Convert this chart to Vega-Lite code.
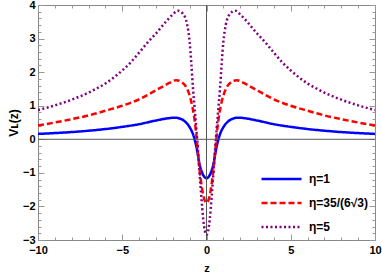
{
  "$schema": "https://vega.github.io/schema/vega-lite/v6.json",
  "width": 337,
  "height": 235,
  "autosize": "none",
  "padding": {"left": 38, "top": 5, "right": 7, "bottom": 33},
  "config": {
    "view": {"stroke": "#888", "strokeWidth": 1},
    "font": "Liberation Sans",
    "axis": {
      "domain": false,
      "grid": false,
      "tickColor": "#999",
      "tickWidth": 1,
      "labelFont": "Liberation Sans",
      "labelFontWeight": "bold",
      "labelFontSize": 11,
      "labelColor": "#000",
      "labelOverlap": false,
      "labelFlush": false,
      "labelBound": false,
      "titleFont": "Liberation Sans",
      "titleFontWeight": "bold",
      "titleFontSize": 11,
      "titleColor": "#000"
    },
    "legend": {
      "orient": "none",
      "legendX": 222,
      "legendY": 167,
      "symbolType": "stroke",
      "symbolSize": 1600,
      "symbolStrokeWidth": 2.5,
      "labelFont": "Liberation Sans",
      "labelFontSize": 12,
      "labelFontWeight": "bold",
      "labelColor": "#000",
      "labelOffset": 6,
      "clipHeight": 14,
      "rowPadding": 10,
      "title": null
    }
  },
  "resolve": {"axis": {"x": "independent", "y": "independent"}},
  "layer": [
    {
      "data": {
        "values": [
          {"z": -10, "V": 0.16, "e": "η=1"}, {"z": -9, "V": 0.185, "e": "η=1"}, {"z": -8, "V": 0.215, "e": "η=1"}, {"z": -7, "V": 0.255, "e": "η=1"}, {"z": -6, "V": 0.305, "e": "η=1"}, {"z": -5, "V": 0.37, "e": "η=1"}, {"z": -4, "V": 0.45, "e": "η=1"}, {"z": -3, "V": 0.56, "e": "η=1"}, {"z": -2.3, "V": 0.625, "e": "η=1"}, {"z": -1.9, "V": 0.645, "e": "η=1"}, {"z": -1.6, "V": 0.62, "e": "η=1"}, {"z": -1.3, "V": 0.54, "e": "η=1"}, {"z": -1.0, "V": 0.36, "e": "η=1"}, {"z": -0.8, "V": 0.15, "e": "η=1"}, {"z": -0.6, "V": -0.22, "e": "η=1"}, {"z": -0.4, "V": -0.76, "e": "η=1"}, {"z": -0.2, "V": -1.06, "e": "η=1"},
          {"z": 0, "V": -1.16, "e": "η=1"},
          {"z": 0.2, "V": -1.06, "e": "η=1"}, {"z": 0.4, "V": -0.76, "e": "η=1"}, {"z": 0.6, "V": -0.22, "e": "η=1"}, {"z": 0.8, "V": 0.15, "e": "η=1"}, {"z": 1.0, "V": 0.36, "e": "η=1"}, {"z": 1.3, "V": 0.54, "e": "η=1"}, {"z": 1.6, "V": 0.62, "e": "η=1"}, {"z": 1.9, "V": 0.645, "e": "η=1"}, {"z": 2.3, "V": 0.625, "e": "η=1"}, {"z": 3, "V": 0.56, "e": "η=1"}, {"z": 4, "V": 0.45, "e": "η=1"}, {"z": 5, "V": 0.37, "e": "η=1"}, {"z": 6, "V": 0.305, "e": "η=1"}, {"z": 7, "V": 0.255, "e": "η=1"}, {"z": 8, "V": 0.215, "e": "η=1"}, {"z": 9, "V": 0.185, "e": "η=1"}, {"z": 10, "V": 0.16, "e": "η=1"},

          {"z": -10, "V": 0.41, "e": "η=35/(6√3)"}, {"z": -9, "V": 0.5, "e": "η=35/(6√3)"}, {"z": -8, "V": 0.6, "e": "η=35/(6√3)"}, {"z": -7, "V": 0.71, "e": "η=35/(6√3)"}, {"z": -6, "V": 0.85, "e": "η=35/(6√3)"}, {"z": -5, "V": 1.0, "e": "η=35/(6√3)"}, {"z": -4, "V": 1.19, "e": "η=35/(6√3)"}, {"z": -3.5, "V": 1.32, "e": "η=35/(6√3)"}, {"z": -3, "V": 1.46, "e": "η=35/(6√3)"}, {"z": -2.6, "V": 1.57, "e": "η=35/(6√3)"}, {"z": -2.2, "V": 1.68, "e": "η=35/(6√3)"}, {"z": -1.8, "V": 1.76, "e": "η=35/(6√3)"}, {"z": -1.5, "V": 1.71, "e": "η=35/(6√3)"}, {"z": -1.2, "V": 1.55, "e": "η=35/(6√3)"}, {"z": -1.0, "V": 1.3, "e": "η=35/(6√3)"}, {"z": -0.85, "V": 1.0, "e": "η=35/(6√3)"}, {"z": -0.7, "V": 0.55, "e": "η=35/(6√3)"}, {"z": -0.6, "V": 0.1, "e": "η=35/(6√3)"}, {"z": -0.5, "V": -0.45, "e": "η=35/(6√3)"}, {"z": -0.4, "V": -0.95, "e": "η=35/(6√3)"}, {"z": -0.3, "V": -1.35, "e": "η=35/(6√3)"}, {"z": -0.2, "V": -1.65, "e": "η=35/(6√3)"}, {"z": -0.1, "V": -1.83, "e": "η=35/(6√3)"},
          {"z": 0, "V": -1.89, "e": "η=35/(6√3)"},
          {"z": 0.1, "V": -1.83, "e": "η=35/(6√3)"}, {"z": 0.2, "V": -1.65, "e": "η=35/(6√3)"}, {"z": 0.3, "V": -1.35, "e": "η=35/(6√3)"}, {"z": 0.4, "V": -0.95, "e": "η=35/(6√3)"}, {"z": 0.5, "V": -0.45, "e": "η=35/(6√3)"}, {"z": 0.6, "V": 0.1, "e": "η=35/(6√3)"}, {"z": 0.7, "V": 0.55, "e": "η=35/(6√3)"}, {"z": 0.85, "V": 1.0, "e": "η=35/(6√3)"}, {"z": 1.0, "V": 1.3, "e": "η=35/(6√3)"}, {"z": 1.2, "V": 1.55, "e": "η=35/(6√3)"}, {"z": 1.5, "V": 1.71, "e": "η=35/(6√3)"}, {"z": 1.8, "V": 1.76, "e": "η=35/(6√3)"}, {"z": 2.2, "V": 1.68, "e": "η=35/(6√3)"}, {"z": 2.6, "V": 1.57, "e": "η=35/(6√3)"}, {"z": 3, "V": 1.46, "e": "η=35/(6√3)"}, {"z": 3.5, "V": 1.32, "e": "η=35/(6√3)"}, {"z": 4, "V": 1.19, "e": "η=35/(6√3)"}, {"z": 5, "V": 1.0, "e": "η=35/(6√3)"}, {"z": 6, "V": 0.85, "e": "η=35/(6√3)"}, {"z": 7, "V": 0.71, "e": "η=35/(6√3)"}, {"z": 8, "V": 0.6, "e": "η=35/(6√3)"}, {"z": 9, "V": 0.5, "e": "η=35/(6√3)"}, {"z": 10, "V": 0.41, "e": "η=35/(6√3)"},

          {"z": -10, "V": 0.87, "e": "η=5"}, {"z": -9, "V": 1.01, "e": "η=5"}, {"z": -8, "V": 1.18, "e": "η=5"}, {"z": -7.5, "V": 1.28, "e": "η=5"}, {"z": -7, "V": 1.39, "e": "η=5"}, {"z": -6.5, "V": 1.52, "e": "η=5"}, {"z": -6, "V": 1.66, "e": "η=5"}, {"z": -5.5, "V": 1.84, "e": "η=5"}, {"z": -5, "V": 2.05, "e": "η=5"}, {"z": -4.5, "V": 2.29, "e": "η=5"}, {"z": -4, "V": 2.58, "e": "η=5"}, {"z": -3.5, "V": 2.88, "e": "η=5"}, {"z": -3, "V": 3.15, "e": "η=5"}, {"z": -2.5, "V": 3.45, "e": "η=5"}, {"z": -2.0, "V": 3.72, "e": "η=5"}, {"z": -1.7, "V": 3.83, "e": "η=5"}, {"z": -1.4, "V": 3.74, "e": "η=5"}, {"z": -1.15, "V": 3.42, "e": "η=5"}, {"z": -1.0, "V": 2.9, "e": "η=5"}, {"z": -0.9, "V": 2.25, "e": "η=5"}, {"z": -0.8, "V": 1.5, "e": "η=5"}, {"z": -0.7, "V": 0.9, "e": "η=5"}, {"z": -0.6, "V": 0.3, "e": "η=5"}, {"z": -0.5, "V": -0.35, "e": "η=5"}, {"z": -0.4, "V": -1.08, "e": "η=5"}, {"z": -0.3, "V": -1.75, "e": "η=5"}, {"z": -0.2, "V": -2.35, "e": "η=5"}, {"z": -0.1, "V": -2.72, "e": "η=5"},
          {"z": 0, "V": -2.85, "e": "η=5"},
          {"z": 0.1, "V": -2.72, "e": "η=5"}, {"z": 0.2, "V": -2.35, "e": "η=5"}, {"z": 0.3, "V": -1.75, "e": "η=5"}, {"z": 0.4, "V": -1.08, "e": "η=5"}, {"z": 0.5, "V": -0.35, "e": "η=5"}, {"z": 0.6, "V": 0.3, "e": "η=5"}, {"z": 0.7, "V": 0.9, "e": "η=5"}, {"z": 0.8, "V": 1.5, "e": "η=5"}, {"z": 0.9, "V": 2.25, "e": "η=5"}, {"z": 1.0, "V": 2.9, "e": "η=5"}, {"z": 1.15, "V": 3.42, "e": "η=5"}, {"z": 1.4, "V": 3.74, "e": "η=5"}, {"z": 1.7, "V": 3.83, "e": "η=5"}, {"z": 2.0, "V": 3.72, "e": "η=5"}, {"z": 2.5, "V": 3.45, "e": "η=5"}, {"z": 3, "V": 3.15, "e": "η=5"}, {"z": 3.5, "V": 2.88, "e": "η=5"}, {"z": 4, "V": 2.58, "e": "η=5"}, {"z": 4.5, "V": 2.29, "e": "η=5"}, {"z": 5, "V": 2.05, "e": "η=5"}, {"z": 5.5, "V": 1.84, "e": "η=5"}, {"z": 6, "V": 1.66, "e": "η=5"}, {"z": 6.5, "V": 1.52, "e": "η=5"}, {"z": 7, "V": 1.39, "e": "η=5"}, {"z": 7.5, "V": 1.28, "e": "η=5"}, {"z": 8, "V": 1.18, "e": "η=5"}, {"z": 9, "V": 1.01, "e": "η=5"}, {"z": 10, "V": 0.87, "e": "η=5"}
        ]
      },
      "mark": {"type": "line", "interpolate": "monotone", "strokeWidth": 2.5, "clip": true},
      "encoding": {
        "x": {
          "field": "z", "type": "quantitative",
          "scale": {"domain": [-10, 10], "nice": false, "zero": false},
          "axis": {
            "orient": "bottom",
            "values": [-10, -9, -8, -7, -6, -5, -4, -3, -2, -1, 0, 1, 2, 3, 4, 5, 6, 7, 8, 9, 10],
            "labelExpr": "datum.value % 5 === 0 ? format(datum.value, 'd') : ''",
            "tickSize": {"condition": {"test": "datum.value % 5 === 0", "value": -6}, "value": -3},
            "labelPadding": 10,
            "title": "z",
            "titlePadding": 4
          }
        },
        "y": {
          "field": "V", "type": "quantitative",
          "scale": {"domain": [-3, 4], "nice": false, "zero": false},
          "axis": {
            "orient": "left",
            "values": [-3, -2.8, -2.6, -2.4, -2.2, -2, -1.8, -1.6, -1.4, -1.2, -1, -0.8, -0.6, -0.4, -0.2, 0, 0.2, 0.4, 0.6, 0.8, 1, 1.2, 1.4, 1.6, 1.8, 2, 2.2, 2.4, 2.6, 2.8, 3, 3.2, 3.4, 3.6, 3.8, 4],
            "labelExpr": "abs(datum.value - round(datum.value)) < 1e-6 ? format(round(datum.value), 'd') : ''",
            "tickSize": {"condition": {"test": "abs(datum.value - round(datum.value)) < 1e-6", "value": -6}, "value": -3},
            "labelPadding": 9,
            "title": "Vʟ(z)",
            "titleFontSize": 12,
            "titlePadding": 2
          }
        },
        "color": {
          "field": "e", "type": "nominal",
          "scale": {"domain": ["η=1", "η=35/(6√3)", "η=5"], "range": ["#0000ff", "#ff0000", "#800080"]}
        },
        "strokeDash": {
          "field": "e", "type": "nominal",
          "scale": {"domain": ["η=1", "η=35/(6√3)", "η=5"], "range": [[1, 0], [6, 3], [2, 2.5]]}
        }
      }
    },
    {
      "data": {"values": [{"v": 0}]},
      "mark": {"type": "rule", "color": "#555", "strokeWidth": 1},
      "encoding": {
        "x": {
          "field": "v", "type": "quantitative",
          "scale": {"domain": [-10, 10], "nice": false, "zero": false},
          "axis": {
            "orient": "top",
            "values": [-10, -9, -8, -7, -6, -5, -4, -3, -2, -1, 0, 1, 2, 3, 4, 5, 6, 7, 8, 9, 10],
            "labels": false,
            "tickSize": {"condition": {"test": "datum.value % 5 === 0", "value": -6}, "value": -3},
            "title": null
          }
        }
      }
    },
    {
      "data": {"values": [{"v": 0}]},
      "mark": {"type": "rule", "color": "#555", "strokeWidth": 1},
      "encoding": {
        "y": {
          "field": "v", "type": "quantitative",
          "scale": {"domain": [-3, 4], "nice": false, "zero": false},
          "axis": {
            "orient": "right",
            "values": [-3, -2.8, -2.6, -2.4, -2.2, -2, -1.8, -1.6, -1.4, -1.2, -1, -0.8, -0.6, -0.4, -0.2, 0, 0.2, 0.4, 0.6, 0.8, 1, 1.2, 1.4, 1.6, 1.8, 2, 2.2, 2.4, 2.6, 2.8, 3, 3.2, 3.4, 3.6, 3.8, 4],
            "labels": false,
            "tickSize": {"condition": {"test": "abs(datum.value - round(datum.value)) < 1e-6", "value": -6}, "value": -3},
            "title": null
          }
        }
      }
    }
  ]
}
